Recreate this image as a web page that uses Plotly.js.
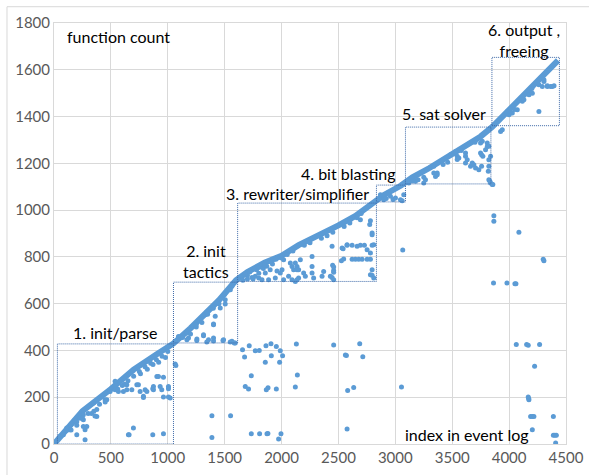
<!DOCTYPE html>
<html>
<head>
<meta charset="utf-8">
<script src="https://cdn.plot.ly/plotly-3.0.1.min.js"></script>
<style>html,body{margin:0;padding:0;background:#fff;}#chart{width:589px;height:475px;}</style>
</head>
<body>
<div id="chart"></div>
<script>
// Main diagonal band of events (index in event log, function count)
const bandX = [0,100,250,500,700,900,1050,1200,1300,1450,1600,1700,1850,2000,2150,2300,2500,2650,2800,2900,3050,3150,3300,3450,3600,3750,3850,3950,4050,4150,4250,4350,4430];
const bandY = [0,55,140,235,318,383,430,495,540,615,700,735,775,805,850,885,935,975,1030,1065,1105,1140,1180,1225,1270,1315,1355,1405,1450,1500,1550,1600,1640];

// Points away from the band
const outX = [
 53,82,112,141,200,258,273,273,288,258,258,230,200,150,120,180,346,376,376,330,360,449,464,493,537,537,566,610,640,640,684,698,654,660,728,742,757,786,786,801,816,868,874,874,904,918,947,962,962,933,1006,1006,1006,1021,868,962,1065,1071,
 150,300,400,450,600,650,700,750,800,850,900,950,1000,980,920,870,820,760,560,620,350,200,250,
 1094,1094,1168,1168,1182,1255,1256,1314,1314,1343,1358,1402,1402,1485,1490,1549,1564,1593,1329,1343,1402,1402,1417,1461,1505,1505,1564,1250,1200,1130,
 1300,1350,1450,1500,1550,1400,1250,
 1584,1657,1675,1716,1769,1804,1863,1907,1954,1989,1910,2009,1857,1983,2130,1734,2139,1681,1710,1866,1881,1954,2121,1388,1552,1388,1734,1807,1872,1880,1974,1995,2458,2687,2561,2570,2714,2634,2581,2576,3054,3065,3863,3981,4051,4060,4063,4154,4168,4268,4224,4168,4174,4172,4189,4204,4218,4204,4389,4389,4402,4415,4409,4306,4300,3866,3866,4086,
 1700,1720,1750,1769,1780,1800,1828,1840,1857,1870,1886,1900,1920,1945,1960,1989,2004,2018,2018,2062,2077,2092,2092,2106,2121,2121,2136,2136,2136,2150,2150,2165,2194,2209,2268,2268,2268,2282,2356,2370,2429,2444,2444,2449,2458,2458,2458,2458,2526,2532,2541,2546,2576,2576,2620,2620,2649,2664,2678,2693,2708,2728,2752,2752,2781,2781,2796,2810,2781,2796,2796,2810,2796,2775,2781,2693,2664,2605,2796,
 1650,1680,1720,1760,1800,1850,1900,1950,2000,2050,2100,2200,2250,2350,2400,2450,2550,2600,2700,1660,1700,1740,1800,
 2869,2898,2920,2957,2980,3001,3045,3074,3060,2940,
 3118,3177,3250,3265,3338,3338,3353,3368,3368,3485,3529,3544,3544,3558,3617,3617,3632,3617,3661,3676,3690,3705,3734,3749,3749,3758,3758,3764,3769,3793,3808,3808,3822,3822,3822,3817,3822,3831,3837,3857,3852,3837,3250,3200,3420,3460,3580,3700,3150,
 3925,3940,3984,3999,4013,4028,4072,4116,4130,4175,4204,4262,4262,4292,4306,4306,4336,4336,4365,4380,4395,4200,4050
];
const outY = [
 33,40,68,61,40,75,61,18,75,104,125,110,95,85,60,100,175,118,147,130,120,189,189,225,232,268,225,225,253,232,232,68,40,40,253,253,225,204,199,232,225,236,246,232,289,289,232,285,201,246,246,236,201,197,40,44,342,336,
 60,130,170,180,250,270,290,310,330,345,360,375,395,370,350,340,320,300,235,255,140,80,110,
 450,460,446,475,453,442,449,463,467,436,446,440,453,442,446,436,439,432,553,564,510,513,546,581,599,617,674,500,470,455,
 520,555,600,640,660,580,510,
 432,403,372,420,399,400,420,429,417,399,377,377,349,349,428,292,295,246,235,232,241,235,244,121,121,28,44,44,44,45,21,44,423,429,380,378,373,242,229,64,244,829,688,688,685,685,425,425,422,425,332,201,189,195,118,118,118,61,118,37,37,37,4,784,790,976,952,905,
 720,740,705,717,745,730,702,750,731,760,702,745,770,710,740,731,745,788,702,717,774,759,702,745,774,695,759,745,702,745,710,788,731,717,802,759,731,710,717,738,717,845,712,764,757,742,734,702,784,838,835,791,852,850,850,790,790,845,790,850,790,850,790,830,790,817,850,852,724,721,745,710,895,938,955,959,967,960,902,
 715,725,735,750,755,765,780,790,795,810,825,850,860,880,890,905,930,945,985,700,705,712,710,
 1066,1044,1050,1059,1045,1052,1044,1066,1040,1075,
 1116,1123,1116,1130,1159,1187,1144,1151,1159,1237,1251,1230,1216,1223,1244,1230,1215,1201,1187,1201,1194,1180,1173,1287,1244,1187,1237,1294,1230,1258,1287,1272,1273,1215,1187,1166,1130,1123,1116,1109,1109,1230,1140,1130,1195,1205,1255,1290,1125,
 1336,1344,1422,1408,1415,1415,1429,1465,1472,1493,1500,1536,1422,1529,1550,1557,1529,1532,1529,1529,1532,1520,1430
];

// Phase boxes: [x0, x1, y0, y1] and labels
const phaseBoxes = [
 [30,1050,0,428],
 [1050,1614,432,692],
 [1614,2834,695,1030],
 [2834,3089,1035,1107],
 [3089,3840,1112,1355],
 [3849,4442,1361,1653]
];
const phaseLabels = ["1. init/parse","2. init<br>tactics","3. rewriter/simplifier","4. bit blasting","5. sat solver","6. output ,<br>freeing"];
const labelPos = [[537,476],[1338,784],[2136,1072],[2587,1155],[3428,1412],[4127,1726]];

const blue = '#5b9bd5';
const fontFam = 'Lato, "Open Sans", sans-serif';

const traces = [
 {x: bandX, y: bandY, mode: 'lines', type: 'scatter', line: {color: blue, width: 6}, hoverinfo: 'skip'},
 {x: outX, y: outY, mode: 'markers', type: 'scatter', marker: {color: blue, size: 5}}
];

const shapes = phaseBoxes.map(b => ({
 type: 'rect', xref: 'x', yref: 'y', x0: b[0], x1: b[1], y0: b[2], y1: b[3],
 line: {color: '#3e6aa8', width: 1, dash: '1px,1px'}, layer: 'above'
}));
shapes.push({type: 'rect', xref: 'paper', yref: 'paper', x0: -0.0918, x1: 1.3, y0: -0.3, y1: 1.0387,
 line: {color: '#d9d9d9', width: 1}, layer: 'below'});

const annotations = phaseLabels.map((t, i) => ({
 text: t, x: labelPos[i][0], y: labelPos[i][1], xref: 'x', yref: 'y',
 showarrow: false, xanchor: 'center', yanchor: 'middle',
 font: {family: fontFam, size: 16, color: '#000'}
}));
annotations.push({text: 'function count', x: 97, y: 1741, xref: 'x', yref: 'y', showarrow: false,
 xanchor: 'left', yanchor: 'middle', font: {family: fontFam, size: 16, color: '#000'}});
annotations.push({text: 'index in event log', x: 3630, y: 40, xref: 'x', yref: 'y', showarrow: false,
 xanchor: 'center', yanchor: 'middle', font: {family: fontFam, size: 16, color: '#000'}});

const axisCommon = {
 showgrid: true, gridcolor: '#d9d9d9', gridwidth: 1, zeroline: false,
 showline: true, linecolor: '#d9d9d9', linewidth: 1, mirror: true, ticks: '',
 tickfont: {family: fontFam, size: 15, color: '#595959'}, fixedrange: true
};

const layout = {
 width: 589, height: 475,
 margin: {l: 54, r: 23, t: 23, b: 31, pad: 0},
 paper_bgcolor: '#ffffff', plot_bgcolor: '#ffffff',
 showlegend: false,
 xaxis: Object.assign({}, axisCommon, {range: [0, 4500], tick0: 0, dtick: 500}),
 yaxis: Object.assign({}, axisCommon, {range: [0, 1800], tick0: 0, dtick: 200}),
 shapes: shapes,
 annotations: annotations
};

Plotly.newPlot('chart', traces, layout, {displayModeBar: false, staticPlot: true});
</script>
</body>
</html>
